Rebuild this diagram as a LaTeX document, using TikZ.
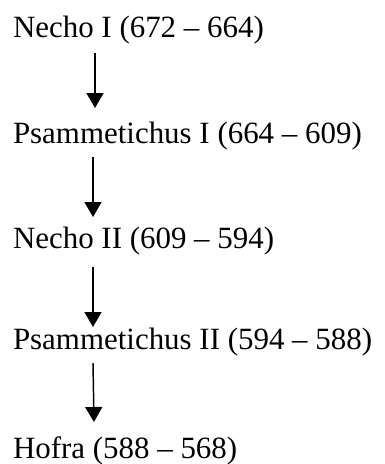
\documentclass[tikz,border=0pt]{standalone}
\usepackage{fontspec}
\setmainfont{Liberation Serif}
\usetikzlibrary{arrows.meta}
\begin{document}
\begin{tikzpicture}[x=0.75pt,y=-0.75pt,
  king/.style={anchor=base west,inner sep=0pt,outer sep=0pt,font=\fontsize{23.2}{28}\selectfont},
  arr/.style={line width=1.1pt,-{Triangle[width=12.75pt,length=11.25pt]}}]
\useasboundingbox (0,0) rectangle (385,464);
\node[king] (k1) at (13,37) {Necho I (672 – 664)};
\node[king] (k2) at (13,143) {Psammetichus I (664 – 609)};
\node[king] (k3) at (13,248) {Necho II (609 – 594)};
\node[king] (k4) at (13,349) {Psammetichus II (594 – 588)};
\node[king] (k5) at (13,458) {Hofra (588 – 568)};
\coordinate (a1s) at (95,53);  \coordinate (a1e) at (95,108);
\coordinate (a2s) at (93,157); \coordinate (a2e) at (93,217);
\coordinate (a3s) at (93,267); \coordinate (a3e) at (93,327);
\coordinate (a4s) at (93,363); \coordinate (a4e) at (94,422);
\draw[arr] (a1s) -- (a1e);
\draw[arr] (a2s) -- (a2e);
\draw[arr] (a3s) -- (a3e);
\draw[arr] (a4s) -- (a4e);
\end{tikzpicture}
\end{document}
